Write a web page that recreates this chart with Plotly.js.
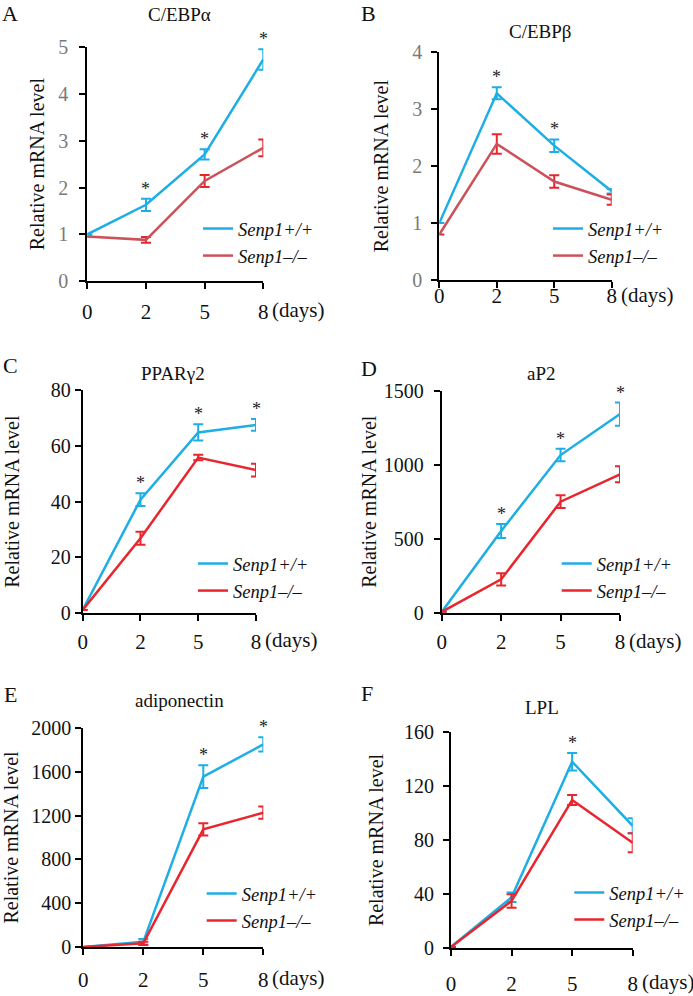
<!DOCTYPE html>
<html><head><meta charset="utf-8">
<script src="https://cdn.plot.ly/plotly-3.0.1.min.js"></script>
<style>html,body{margin:0;padding:0;background:#fff}</style>
</head><body><div id="chart" style="width:693px;height:996px"></div>
<script>
// ---------- data ----------
const days = ['0', '2', '5', '8'];
const dayLabels = ['0', '2', '5', '8'];
const seriesNames = ['Senp1+/+', 'Senp1–/–'];
const panelLetters = ['A', 'B', 'C', 'D', 'E', 'F'];
const genes = ['C/EBPα', 'C/EBPβ', 'PPARγ2', 'aP2', 'adiponectin', 'LPL'];
const yTitle = 'Relative mRNA level';
const unitLabel = '(days)';

const wtA = [1.0, 1.63, 2.71, 4.74];   const wtErrA = [null, 0.13, 0.11, 0.22];
const koA = [0.95, 0.88, 2.14, 2.85];  const koErrA = [null, 0.06, 0.13, 0.18];
const sigA = [false, true, true, true];

const wtB = [1.0, 3.28, 2.36, 1.56];   const wtErrB = [null, 0.105, 0.11, 0.04];
const koB = [0.80, 2.39, 1.73, 1.41];  const koErrB = [null, 0.17, 0.11, 0.09];
const sigB = [false, true, true, false];

const wtC = [1.2, 40.7, 64.8, 67.5];   const wtErrC = [null, 2.3, 2.9, 2.1];
const koC = [1.2, 26.9, 55.8, 51.3];   const koErrC = [null, 2.3, 1.0, 2.3];
const sigC = [false, true, true, true];

const wtD = [5, 552, 1065, 1342];      const wtErrD = [null, 48, 42, 78];
const koD = [5, 225, 750, 935];        const koErrD = [null, 42, 43, 54];
const sigD = [false, true, true, true];

const wtE = [3, 50, 1554, 1848];       const wtErrE = [null, 25, 103, 64];
const koE = [3, 36, 1074, 1226];       const koErrE = [null, 15, 56, 56];
const sigE = [false, false, true, true];

const wtF = [1, 37.7, 137.8, 90.5];    const wtErrF = [null, 3.5, 6.4, 5.5];
const koF = [1, 35, 109.5, 78];        const koErrF = [null, 5, 3.7, 7];
const sigF = [false, false, true, false];

const yMax = [5, 4, 80, 1500, 2000, 160];
const yStep = [1, 1, 20, 500, 400, 40];

// ---------- layout geometry (px) ----------
const W = 693, H = 996;
const FONT = '"Liberation Serif", "Times New Roman", Times, serif';
const BLUE = '#1eaee6', RED = '#e8262e', RED_MUTED = '#cc525a';
const panels = [
  {wt: wtA, wtE: wtErrA, ko: koA, koE: koErrA, sig: sigA},
  {wt: wtB, wtE: wtErrB, ko: koB, koE: koErrB, sig: sigB},
  {wt: wtC, wtE: wtErrC, ko: koC, koE: koErrC, sig: sigC},
  {wt: wtD, wtE: wtErrD, ko: koD, koE: koErrD, sig: sigD},
  {wt: wtE, wtE: wtErrE, ko: koE, koE: koErrE, sig: sigE},
  {wt: wtF, wtE: wtErrF, ko: koF, koE: koErrF, sig: sigF}
];
const geo = [
  {x0: 87.3, x1: 263.3, yTop: 47.3, yBot: 281, title: [179, 15], letter: [9.5, 14], leg: [240, 228], drop: 29.5, ylab: 7, ytit: 8, ytc: '#7a7a7a', koLine: RED_MUTED},
  {x0: 439.3, x1: 611.7, yTop: 52.3, yBot: 280, title: [540, 31.7], letter: [368.7, 14], leg: [590, 228], drop: 15, ylab: 5, ytit: 18, ytc: '#7a7a7a', koLine: RED_MUTED},
  {x0: 82.7, x1: 256, yTop: 390, yBot: 613.3, title: [173, 373], letter: [10, 365], leg: [235, 563], drop: 26.7, ylab: 0, ytit: 26, ytc: '#111', koLine: RED},
  {x0: 441.7, x1: 620, yTop: 390.7, yBot: 612.7, title: [541.7, 373], letter: [369, 369], leg: [598.7, 563], drop: 28, ylab: 6, ytit: 2, ytc: '#111', koLine: RED},
  {x0: 83.3, x1: 263.3, yTop: 727.7, yBot: 947.3, title: [180, 700.7], letter: [10, 694], leg: [243.7, 893], drop: 31, ylab: 0, ytit: 15, ytc: '#111', koLine: RED},
  {x0: 451, x1: 632.7, yTop: 731.7, yBot: 948.3, title: [542.3, 707.7], letter: [366.7, 693], leg: [611.3, 892], drop: 34, ylab: 5, ytit: 15, ytc: '#111', koLine: RED}
];

const traces = [];
const layout = {
  width: W, height: H,
  margin: {l: 0, r: 0, t: 0, b: 0},
  paper_bgcolor: '#fff', plot_bgcolor: 'rgba(0,0,0,0)',
  font: {family: FONT, color: '#111'},
  annotations: [],
  showlegend: true
};

panels.forEach((p, i) => {
  const g = geo[i];
  const n = i === 0 ? '' : String(i + 1);
  const xa = 'x' + n, ya = 'y' + n;
  const legId = 'legend' + n;

  traces.push({
    type: 'scatter', mode: 'lines', x: days, y: p.wt, name: seriesNames[0],
    xaxis: xa, yaxis: ya, legend: legId, cliponaxis: false,
    line: {color: BLUE, width: 2.5},
    error_y: {type: 'data', array: p.wtE, visible: true, color: BLUE, thickness: 2, width: 5}
  });
  traces.push({
    type: 'scatter', mode: 'lines', x: days, y: p.ko, name: seriesNames[1],
    xaxis: xa, yaxis: ya, legend: legId, cliponaxis: false,
    line: {color: g.koLine, width: 2.5},
    error_y: {type: 'data', array: p.koE, visible: true, color: RED, thickness: 2, width: 5}
  });

  layout['xaxis' + n] = {
    domain: [g.x0 / W, g.x1 / W], anchor: ya, type: 'category',
    categoryorder: 'array', categoryarray: days, range: [0, 3],
    tickmode: 'array', tickvals: days, ticktext: dayLabels,
    showgrid: false, zeroline: false, showline: true, linecolor: '#000', linewidth: 2,
    ticks: 'outside', ticklen: 6, tickwidth: 2, tickcolor: '#000',
    ticklabelstandoff: Math.round(g.drop - 25),
    tickfont: {family: FONT, size: 21, color: '#111'}, fixedrange: true
  };
  layout['yaxis' + n] = {
    domain: [1 - g.yBot / H, 1 - g.yTop / H], anchor: xa,
    range: [0, yMax[i]], tickmode: 'linear', tick0: 0, dtick: yStep[i],
    showgrid: false, zeroline: false, showline: true, linecolor: '#000', linewidth: 2,
    ticks: 'outside', ticklen: 6, tickwidth: 2, tickcolor: '#000',
    ticklabelstandoff: g.ylab,
    tickfont: {family: FONT, size: 20, color: g.ytc},
    title: {text: yTitle, font: {family: FONT, size: 20, color: '#111'}, standoff: g.ytit},
    fixedrange: true
  };
  layout[legId] = {
    x: (g.leg[0] - 42) / W, y: 1 - (g.leg[1] - 18) / H, xanchor: 'left', yanchor: 'top',
    bgcolor: 'rgba(0,0,0,0)', borderwidth: 0, tracegroupgap: 0,
    font: {family: FONT, size: 18.5, color: '#111', style: 'italic'}
  };

  // panel title and letter
  layout.annotations.push({
    xref: 'paper', yref: 'paper', x: g.title[0] / W, y: 1 - g.title[1] / H,
    xanchor: 'center', yanchor: 'middle', showarrow: false, text: genes[i],
    font: {family: FONT, size: 19, color: '#111'}
  });
  layout.annotations.push({
    xref: 'paper', yref: 'paper', x: g.letter[0] / W, y: 1 - g.letter[1] / H,
    xanchor: 'center', yanchor: 'middle', showarrow: false, text: panelLetters[i],
    font: {family: FONT, size: 22, color: '#111'}
  });
  // "(days)" unit next to last tick label (category index 3)
  layout.annotations.push({
    xref: xa, yref: ya + ' domain', x: days.length - 1, y: 0, xanchor: 'left', yanchor: 'middle',
    xshift: 7, yshift: -g.drop, showarrow: false, text: unitLabel,
    font: {family: FONT, size: 21, color: '#111'}
  });
  // significance asterisks (x given as category index)
  p.sig.forEach((s, j) => {
    if (!s) return;
    layout.annotations.push({
      xref: xa, yref: ya, x: j, y: p.wt[j] + (p.wtE[j] || 0),
      xanchor: 'center', yanchor: 'bottom', yshift: -2, showarrow: false, text: '*',
      font: {family: FONT, size: 18, color: '#222'}
    });
  });
});

Plotly.newPlot('chart', traces, layout, {staticPlot: true, displayModeBar: false});
</script>
</body></html>
